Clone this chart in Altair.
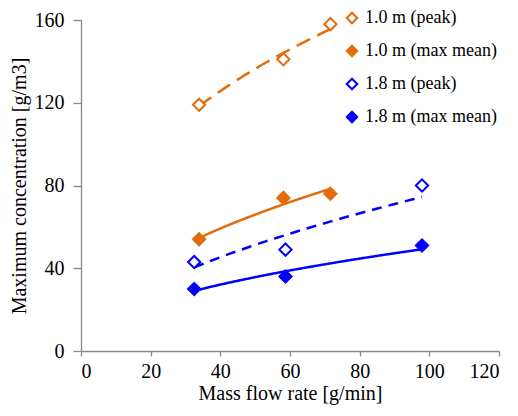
import altair as alt
import pandas as pd

series_names = ["1.0 m (peak)", "1.0 m (max mean)", "1.8 m (peak)", "1.8 m (max mean)"]
x_10 = [33.9, 58.1, 71.6]
x_18 = [32.5, 58.7, 97.9]
y_10_peak = [119, 141, 158]
y_10_mean = [54, 74, 76]
y_18_peak = [43, 49, 80]
y_18_mean = [30, 36, 51]

rows = []
for xs, ys, s in [(x_10, y_10_peak, series_names[0]), (x_10, y_10_mean, series_names[1]),
                  (x_18, y_18_peak, series_names[2]), (x_18, y_18_mean, series_names[3])]:
    for xv, yv in zip(xs, ys):
        rows.append({"x": xv, "y": yv, "series": s})
df = pd.DataFrame(rows)

ORANGE = "#E46C0A"
BLUE = "#0000FF"
font = "Liberation Serif"

color_scale = alt.Scale(domain=series_names, range=[ORANGE, ORANGE, BLUE, BLUE])
fill_scale = alt.Scale(domain=series_names, range=["white", ORANGE, "white", BLUE])
# dash scale listed in reverse order so that its (hidden) legend stays separate
dash_domain = series_names[::-1]
dash_scale = alt.Scale(domain=dash_domain, range=[[1, 0], [10, 7], [1, 0], [15, 8]])

x_enc = alt.X("x:Q", title="Mass flow rate [g/min]",
              scale=alt.Scale(domain=[0, 120], nice=False),
              axis=alt.Axis(values=[0, 20, 40, 60, 80, 100, 120], grid=False,
                            tickSize=5, labelPadding=5, titlePadding=2))
y_enc = alt.Y("y:Q", title="Maximum concentration [g/m3]",
              scale=alt.Scale(domain=[0, 160], nice=False),
              axis=alt.Axis(values=[0, 40, 80, 120, 160], grid=False,
                            tickSize=8, labelPadding=9, titlePadding=5))

leg = alt.Legend(symbolType="diamond", title=None)

lines = alt.Chart(df).transform_regression(
    "x", "y", method="pow", groupby=["series"]
).mark_line(strokeWidth=2.5).encode(
    x=x_enc, y=y_enc,
    color=alt.Color("series:N", scale=color_scale, title=None, legend=leg),
    strokeDash=alt.StrokeDash("series:N", scale=dash_scale, legend=None),
)

points = alt.Chart(df).mark_point(shape="diamond", size=150, strokeWidth=2, opacity=1).encode(
    x=x_enc, y=y_enc,
    color=alt.Color("series:N", scale=color_scale, title=None, legend=leg),
    fill=alt.Fill("series:N", scale=fill_scale, title=None, legend=leg),
)

chart = alt.layer(lines, points).properties(
    width=418, height=331,
    autosize=alt.AutoSizeParams(type="none"),
    padding={"left": 73, "top": 12, "right": 11, "bottom": 56},
).configure_axis(
    labelFont=font, titleFont=font, labelFontSize=20, titleFontSize=20,
    labelColor="black", titleColor="black", titleFontWeight="normal",
    domainColor="#888888", tickColor="#888888", domainWidth=1.3, tickWidth=1.3,
).configure_legend(
    orient="none", legendX=262, legendY=-11,
    symbolType="diamond", symbolSize=110, symbolStrokeWidth=2,
    labelFontSize=18, labelFont=font, labelColor="black",
    rowPadding=13, padding=0, labelOffset=4, labelLimit=300,
).configure_view(stroke=None)

chart.save("out.html", embed_options={"renderer": "svg", "actions": False})
